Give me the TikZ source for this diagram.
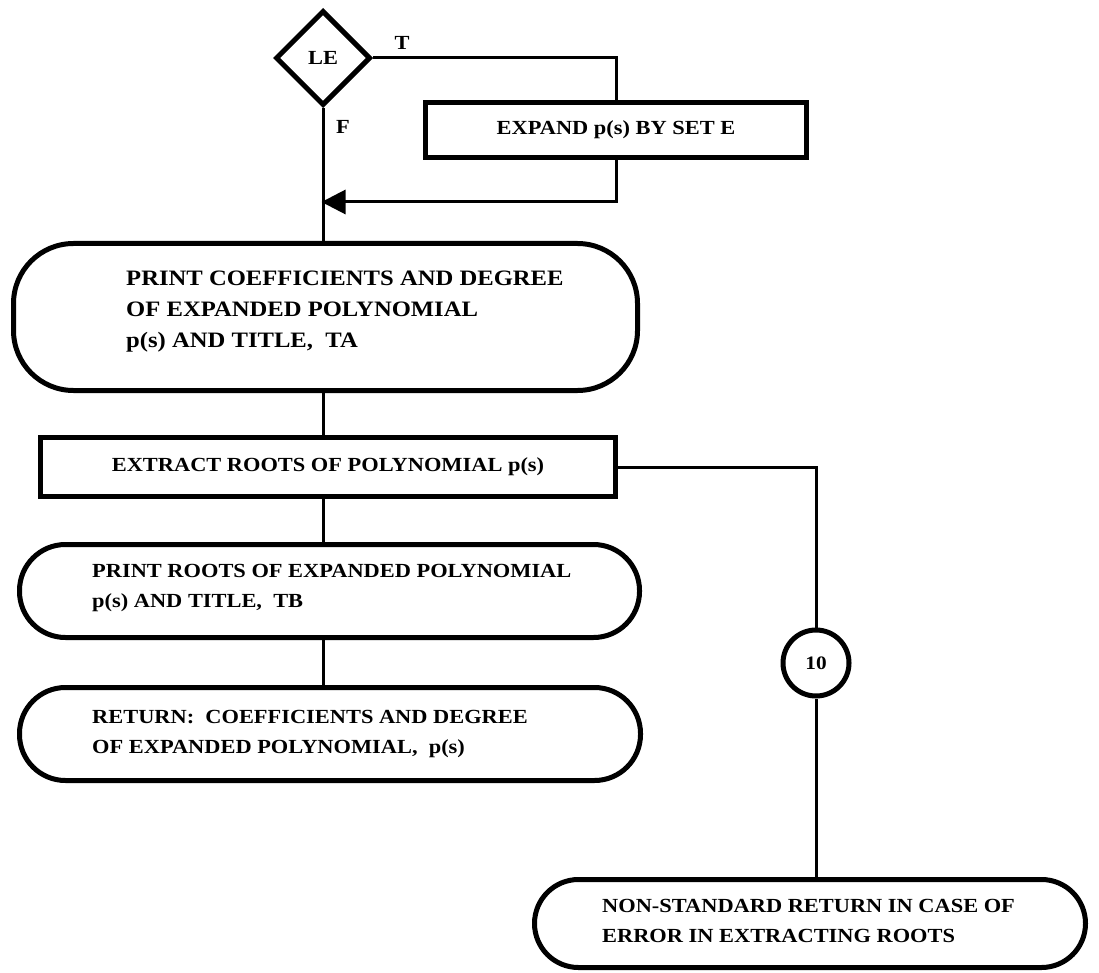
\documentclass[tikz,border=0pt]{standalone}
\usepackage{fontspec}
\setmainfont[FakeStretch=1.12]{Liberation Serif}
\usetikzlibrary{shapes.geometric,arrows.meta}

\begin{document}
\begin{tikzpicture}[x=1pt,y=-1pt,
    every node/.style={font=\fontsize{20}{30}\selectfont\bfseries, inner sep=0pt},
    boxline/.style={draw, line width=5pt},
    procbox/.style={boxline, rectangle, minimum width=#1},
    termbox/.style={boxline, rectangle},
    txt/.style={align=left, anchor=west},
    conn/.style={line width=3pt}]
  \useasboundingbox (0,0) rectangle (1099,973);

  % decision
  \node[boxline, diamond, minimum width=95pt, minimum height=95pt] (dec) at (323,58) {LE};
  \node (tlab) at (402,43) {T};
  \node (flab) at (343,127) {F};

  % set E expansion
  \node[procbox=381pt, minimum height=55pt] (expand) at (616,130) {EXPAND p(s) BY SET E};

  % first print block
  \node[termbox, rounded corners=60pt, minimum width=624pt, minimum height=147pt] (print1) at (325.5,317) {};
  \node[txt, font=\fontsize{22}{31}\selectfont\bfseries] (print1txt) at (126,312)
    {PRINT COEFFICIENTS AND DEGREE\\OF EXPANDED POLYNOMIAL\\p(s) AND TITLE,\ \ TA};

  % root extraction
  \node[procbox=575pt, minimum height=59pt] (extract) at (328,467) {EXTRACT ROOTS OF POLYNOMIAL p(s)};

  % print roots
  \node[termbox, rounded corners=46pt, minimum width=620pt, minimum height=93pt] (print2) at (329.5,591) {};
  \node[txt] (print2txt) at (92,588) {PRINT ROOTS OF EXPANDED POLYNOMIAL\\p(s) AND TITLE,\ \ TB};

  % normal return
  \node[termbox, rounded corners=46pt, minimum width=621pt, minimum height=93pt] (ret) at (330,734) {};
  \node[txt] (rettxt) at (92,734) {RETURN:\ \ COEFFICIENTS AND DEGREE\\OF EXPANDED POLYNOMIAL,\ \ p(s)};

  % error exit
  \node[draw, circle, line width=5pt, minimum size=66pt, font=\fontsize{19}{19}\selectfont\bfseries] (c10) at (816,663) {10};
  \node[termbox, rounded corners=44pt, minimum width=551pt, minimum height=88pt] (nonstd) at (810,923.5) {};
  \node[txt] (nonstdtxt) at (602,921) {NON-STANDARD RETURN IN CASE OF\\ERROR IN EXTRACTING ROOTS};

  % connectors
  \coordinate (join) at (323,202);
  \draw[conn] (dec.east) -- (dec.east -| expand.north) -- (expand.north);
  \draw[conn, -{Triangle[length=24pt,width=24pt]}, shorten >=-1.5pt]
    (expand.south) -- (expand.south |- join) -- (join);
  \draw[conn] (dec.south) -- (print1.north -| dec.south);
  \draw[conn] (print1.south -| dec.south) -- (extract.north -| dec.south);
  \draw[conn] (extract.south -| dec.south) -- (print2.north -| dec.south);
  \draw[conn] (print2.south -| dec.south) -- (ret.north -| dec.south);
  \draw[conn] (extract.east) -- (extract.east -| c10.north) -- (c10.north);
  \draw[conn] (c10.south) -- (nonstd.north -| c10.south);
\end{tikzpicture}
\end{document}
